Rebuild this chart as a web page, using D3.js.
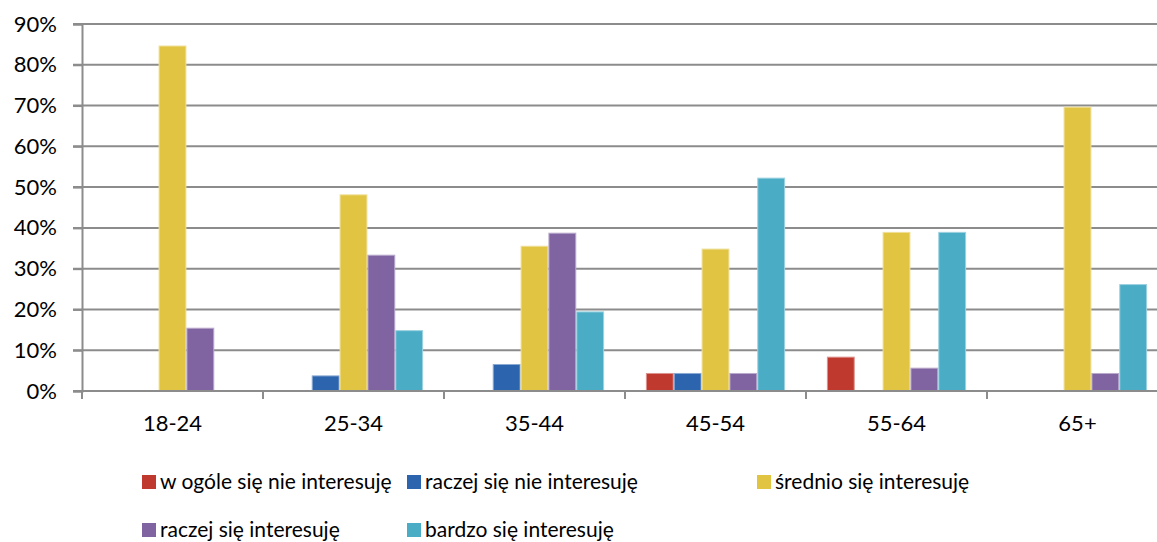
<!DOCTYPE html>
<html>
<head>
<meta charset="utf-8">
<script src="https://cdn.jsdelivr.net/npm/d3@7"></script>
<style>
  body { margin: 0; background: #fff; }
  svg { display: block; }
  text { font-family: Lato, "Open Sans", sans-serif; fill: #000; }
</style>
</head>
<body>
<div id="chart"></div>
<script>
// age groups on the x axis
const categories = ["18-24", "25-34", "35-44", "45-54", "55-64", "65+"];

// series names (legend) and colours
const seriesNames = [
  "w ogóle się nie interesuję",
  "raczej się nie interesuję",
  "średnio się interesuję",
  "raczej się interesuję",
  "bardzo się interesuję",
];
const seriesColors = ["#C0392F", "#2C64AE", "#E1C441", "#8064A2", "#4BACC6"];

// values in percent, one array per series (0 = no bar)
const notAtAll = [0, 0, 0, 4.3, 8.3, 0];
const ratherNot = [0, 3.7, 6.5, 4.3, 0, 0];
const medium = [84.6, 48.1, 35.5, 34.8, 38.9, 69.6];
const ratherYes = [15.4, 33.3, 38.7, 4.3, 5.6, 4.3];
const veryMuch = [0, 14.8, 19.4, 52.2, 38.9, 26.1];

const yTicks = [0, 10, 20, 30, 40, 50, 60, 70, 80, 90];

const seriesValues = [notAtAll, ratherNot, medium, ratherYes, veryMuch];

const W = 1157, H = 542;
const margin = { left: 82, top: 24, bottom: 151 };
// the plot area runs past the right edge of the picture (cropped)
const plotRight = 1168;
const plotBottom = H - margin.bottom;
const fontSize = "22px";

const svg = d3.select("#chart")
  .append("svg")
  .attr("width", W)
  .attr("height", H);

const y = d3.scaleLinear().domain([0, 90]).range([plotBottom, margin.top]);

const x0 = d3.scaleBand()
  .domain(categories)
  .range([margin.left, plotRight])
  .paddingInner(0)
  .paddingOuter(0);

// 5 bars with a 150% gap in each category
const barW = x0.bandwidth() / (5 + 1.5);
const x1 = d3.scaleBand()
  .domain(d3.range(5))
  .range([barW * 0.75, barW * 0.75 + barW * 5]);

// gridlines
svg.append("g")
  .selectAll("line")
  .data(yTicks.filter((t) => t > 0))
  .join("line")
  .attr("x1", margin.left - 9)
  .attr("x2", plotRight)
  .attr("y1", (d) => y(d))
  .attr("y2", (d) => y(d))
  .attr("stroke", "#8c8c8c")
  .attr("stroke-width", 2);

// bars
const rows = categories.map((c, i) => ({
  cat: c,
  vals: seriesValues.map((s, k) => ({ k: k, v: s[i] })),
}));

svg.append("g")
  .selectAll("g")
  .data(rows)
  .join("g")
  .attr("transform", (d) => `translate(${x0(d.cat)},0)`)
  .selectAll("rect")
  .data((d) => d.vals.filter((e) => e.v > 0))
  .join("rect")
  .attr("x", (d) => x1(d.k) + 0.5)
  .attr("y", (d) => y(d.v))
  .attr("width", x1.bandwidth() - 1)
  .attr("height", (d) => y(0) - y(d.v))
  .attr("fill", (d) => seriesColors[d.k])
  .attr("stroke", (d) => d3.interpolateRgb(seriesColors[d.k], "#fff")(0.45))
  .attr("stroke-width", 1);

// y axis
const yAxis = svg.append("g")
  .attr("transform", `translate(${margin.left},0)`)
  .call(d3.axisLeft(y).tickValues(yTicks).tickSize(9).tickFormat((d) => d + "%"));
yAxis.select(".domain").attr("stroke", "#8c8c8c").attr("stroke-width", 2);
yAxis.selectAll(".tick line").attr("stroke", "#8c8c8c").attr("stroke-width", 2);
yAxis.selectAll(".tick text")
  .attr("x", -25)
  .style("font-size", fontSize)
  .style("font-family", "Lato, sans-serif")
  .attr("fill", "#000");

// x axis
const xAxis = svg.append("g")
  .attr("transform", `translate(0,${plotBottom})`)
  .call(d3.axisBottom(x0).tickSize(0).tickPadding(24));
xAxis.select(".domain").remove();
xAxis.append("line")
  .attr("x1", margin.left - 9)
  .attr("x2", plotRight)
  .attr("stroke", "#8c8c8c")
  .attr("stroke-width", 2);
xAxis.selectAll(".tick text")
  .style("font-size", fontSize)
  .style("font-family", "Lato, sans-serif")
  .attr("fill", "#000");
// category boundary ticks
xAxis.append("g")
  .selectAll("line")
  .data(d3.range(categories.length + 1))
  .join("line")
  .attr("x1", (i) => margin.left + i * x0.bandwidth())
  .attr("x2", (i) => margin.left + i * x0.bandwidth())
  .attr("y1", 0)
  .attr("y2", 8)
  .attr("stroke", "#8c8c8c")
  .attr("stroke-width", 2);

// legend
const legendPos = [
  { x: 142, y: 475 },
  { x: 407, y: 475 },
  { x: 757, y: 475 },
  { x: 142, y: 523 },
  { x: 407, y: 523 },
];
const legend = svg.append("g")
  .selectAll("g")
  .data(seriesNames)
  .join("g")
  .attr("transform", (d, i) => `translate(${legendPos[i].x},${legendPos[i].y})`);
legend.append("rect")
  .attr("width", 14)
  .attr("height", 14)
  .attr("fill", (d, i) => seriesColors[i]);
legend.append("text")
  .attr("x", 18)
  .attr("y", 14)
  .style("font-size", "21px")
  .text((d) => d);
</script>
</body>
</html>
